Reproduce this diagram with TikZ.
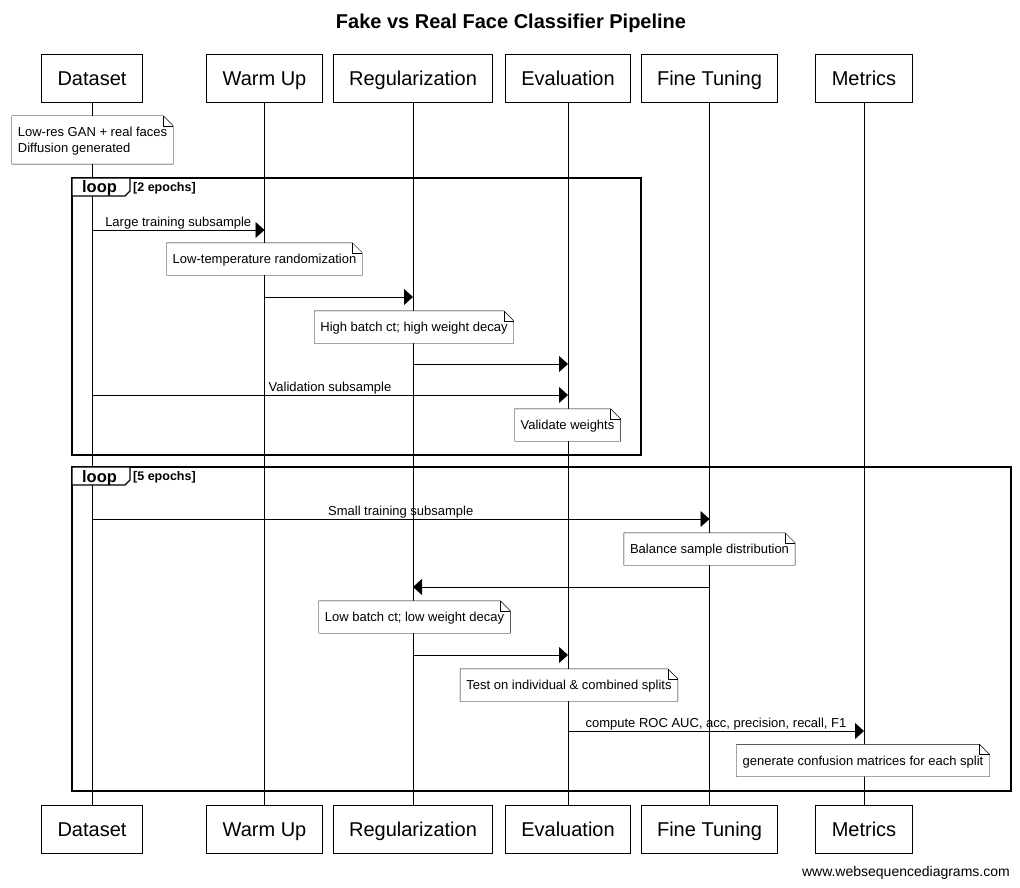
\documentclass[tikz,border=0pt]{standalone}
\usepackage{fontspec}
\setmainfont{Liberation Sans}
\usetikzlibrary{arrows.meta,calc}
\newcommand\myfold[1]{%
  \draw[fill=white] (#1.south west) -- (#1.north west) -- ([xshift=-10pt]#1.north east) -- ([yshift=-10pt]#1.north east) -- (#1.south east) -- cycle;
  \draw ([xshift=-10pt]#1.north east) |- ([yshift=-10pt]#1.north east);
  \node[notetext] at ([yshift=-1.5pt]#1.center) {\csname notetxt#1\endcsname};}
\begin{document}
\begin{tikzpicture}[x=1pt,y=-1pt,
  actor/.style={draw, line width=0.9pt, fill=white, minimum height=48pt, inner xsep=16pt, inner ysep=2pt, text height=18.5pt, text depth=4pt, font=\fontsize{20}{24}\selectfont},
  notebox/.style={inner xsep=6pt, inner ysep=0pt, minimum height=32pt, font=\fontsize{13}{16}\selectfont, align=left},
  notetext/.style={inner xsep=6pt, inner ysep=0pt, font=\fontsize{13}{16}\selectfont, align=left},
  msg/.style={line width=0.8pt, -{Triangle[length=9pt,width=16pt]}},
  lbl/.style={font=\fontsize{13}{15}\selectfont, inner sep=0pt, anchor=base},
  life/.style={line width=0.8pt},
  frame/.style={line width=1.6pt},
  tab/.style={line width=1.4pt, fill=white},
  ]
\useasboundingbox (0,0) rectangle (1020,888);
\node[font=\bfseries\fontsize{20}{24}\selectfont] (title) at (511,23) {Fake vs Real Face Classifier Pipeline};
% actors
\foreach \n/\x/\t in {d/92/Dataset, w/264.5/Warm Up, r/413/Regularization, e/568/Evaluation, f/709.5/Fine Tuning, m/864/Metrics}{
  \node[actor] (\n top) at (\x,78) {\t};
  \node[actor] (\n bot) at (\x,829) {\t};
}
\foreach \n in {d,w,r,e,f,m}{\draw[life] (\n top.south) -- (\n bot.north);}
% loop frames
\draw[frame] (72,178) rectangle (641,455);
\draw[tab] (72,178) -- (130,178) -- (130,191) -- (125,196) -- (72,196) -- cycle;
\node[font=\bfseries\fontsize{16.5}{18}\selectfont, anchor=base] (loopa) at (99.5,193) {loop};
\node[font=\bfseries\fontsize{12.5}{14}\selectfont, anchor=base west, inner sep=0pt] (epa) at (133,191) {[2 epochs]};
\draw[frame] (72,467) rectangle (1011,791);
\draw[tab] (72,467) -- (130,467) -- (130,480) -- (125,485) -- (72,485) -- cycle;
\node[font=\bfseries\fontsize{16.5}{18}\selectfont, anchor=base] (loopb) at (99.5,482) {loop};
\node[font=\bfseries\fontsize{12.5}{14}\selectfont, anchor=base west, inner sep=0pt] (epb) at (133,480) {[5 epochs]};
% notes
\def\notetxtna{Low-res GAN + real faces\\Diffusion generated}
\node[notebox, minimum height=48pt] (na) at (92.5,140) {\phantom{Low-res GAN + real faces}};
\myfold{na}
% messages
\draw[msg] (dtop |- 0,230) -- node[lbl, above=0.5pt] (la) {Large training subsample} (wtop |- 0,230);
\def\notetxtnb{Low-temperature randomization}
\node[notebox] (nb) at (264.5,259) {\phantom{Low-temperature randomization}};
\myfold{nb}
\draw[msg] (wtop |- 0,297) -- (rtop |- 0,297);
\def\notetxtnc{High batch ct; high weight decay}
\node[notebox] (nc) at (414,327) {\phantom{High batch ct; high weight decay}};
\myfold{nc}
\draw[msg] (rtop |- 0,364) -- (etop |- 0,364);
\draw[msg] (dtop |- 0,395) -- node[lbl, above=0.5pt] (lb) {Validation subsample} (etop |- 0,395);
\def\notetxtnd{Validate weights}
\node[notebox] (nd) at (567.5,425) {\phantom{Validate weights}};
\myfold{nd}
\draw[msg] (dtop |- 0,519) -- node[lbl, above=0.5pt] (lc) {Small training subsample} (ftop |- 0,519);
\def\notetxtne{Balance sample distribution}
\node[notebox] (ne) at (709.5,549) {\phantom{Balance sample distribution}};
\myfold{ne}
\draw[msg] (ftop |- 0,587) -- (rtop |- 0,587);
\def\notetxtnf{Low batch ct; low weight decay}
\node[notebox] (nf) at (414.5,617) {\phantom{Low batch ct; low weight decay}};
\myfold{nf}
\draw[msg] (rtop |- 0,655) -- (etop |- 0,655);
\def\notetxtng{Test on individual \& combined splits}
\node[notebox] (ng) at (569,685) {\phantom{Test on individual \& combined splits}};
\myfold{ng}
\draw[msg] (etop |- 0,731) -- node[lbl, above=0.5pt] (ld) {compute ROC AUC, acc, precision, recall, F1} (mtop |- 0,731);
\def\notetxtnh{generate confusion matrices for each split}
\node[notebox] (nh) at (863,760.5) {\phantom{generate confusion matrices for each split}};
\myfold{nh}
\node[font=\fontsize{14}{16}\selectfont, anchor=east, inner sep=0pt] (foot) at (1010,873) {www.websequencediagrams.com};
\end{tikzpicture}
\end{document}
